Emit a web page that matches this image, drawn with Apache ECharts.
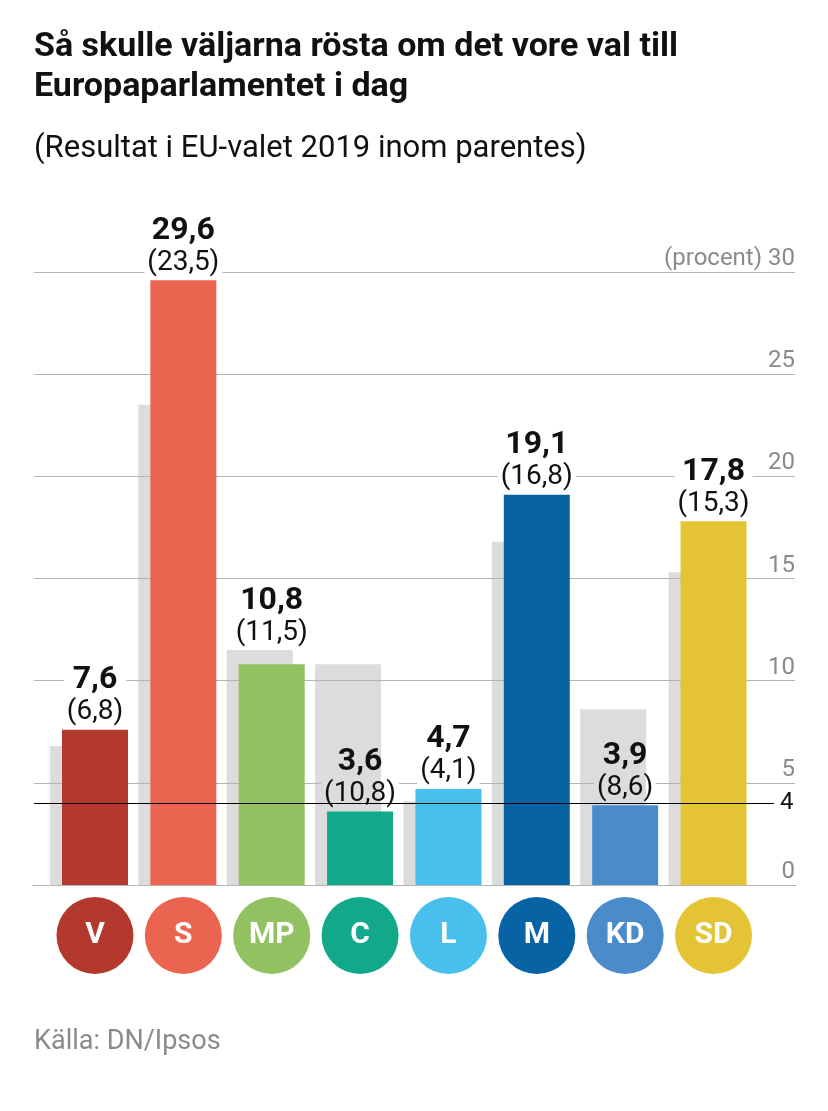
<!DOCTYPE html>
<html lang="sv" style="height: 100%">
<head>
  <meta charset="utf-8">
  <title>EU-val opinionsmätning - echart</title>
</head>
<body style="height: 100%; margin: 0; background: #fff">
  <div id="container" style="width: 828px; height: 1111px"></div>
  <script type="text/javascript" src="https://fastly.jsdelivr.net/npm/echarts@6.0.0/dist/echarts.min.js"></script>

  <script type="text/javascript">
    var dom = document.getElementById('container');
    var myChart = echarts.init(dom, null, { renderer: 'canvas' });

    // partier och värden
    const parties = ['V', 'S', 'MP', 'C', 'L', 'M', 'KD', 'SD'];
    const poll = [7.6, 29.6, 10.8, 3.6, 4.7, 19.1, 3.9, 17.8];
    const result2019 = [6.8, 23.5, 11.5, 10.8, 4.1, 16.8, 8.6, 15.3];
    const partyColors = ['#b3392e', '#ea6450', '#92c162', '#12a98a', '#48bfec', '#0763a3', '#4a8bcb', '#e4c435'];
    const yTicks = [0, 5, 10, 15, 20, 25, 30];
    const threshold = 4;

    const FONT = 'Roboto';
    const GREY = '#dcdcdc';
    const TOP = 272, BOTTOM = 226;
    const BAR_W = 66, SHIFT = 12, LABEL_PAD = 3;
    const Y_MAX = yTicks[yTicks.length - 1];
    const PX_PER_UNIT = (1111 - TOP - BOTTOM) / Y_MAX;

    const fmt = v => v.toFixed(1).replace('.', ',');

    // textbredd för att veta var den grå stapeln slutar under etiketten
    const measureCtx = document.createElement('canvas').getContext('2d');
    function textWidth(str, font) {
      measureCtx.font = font;
      return measureCtx.measureText(str).width;
    }

    // cirklar under staplarna
    const circleRich = {};
    parties.forEach((p, i) => {
      circleRich[p] = {
        backgroundColor: partyColors[i],
        color: '#fff',
        width: 77,
        height: 77,
        lineHeight: 77,
        borderRadius: 38.5,
        align: 'center',
        fontSize: 30,
        fontWeight: 'bold',
        fontFamily: FONT
      };
    });

    const labelRich = {
      v: { fontSize: 32, fontWeight: 'bold', color: '#111', lineHeight: 35, fontFamily: FONT },
      p: { fontSize: 28, color: '#111', lineHeight: 29, fontFamily: FONT }
    };

    // etikett: ovanför den högsta stapeln om den grå bara är lite högre,
    // annars direkt ovanför den färgade (bakgrund grå/vit så stödlinjen döljs)
    function labelFor(i) {
      const now = poll[i], prev = result2019[i];
      const lab = { padding: [0, LABEL_PAD] };
      if (now >= prev) {
        lab.backgroundColor = '#fff';
      } else if (prev - now < 2) {
        lab.distance = (prev - now) * PX_PER_UNIT + 3;
      } else {
        const w = Math.max(
          textWidth(fmt(now), 'bold 32px ' + FONT),
          textWidth('(' + fmt(prev) + ')', '28px ' + FONT)
        ) + 2 * LABEL_PAD;
        const greyEnd = Math.min(1, (w / 2 + BAR_W / 2 - SHIFT) / w);
        lab.backgroundColor = new echarts.graphic.LinearGradient(0, 0, 1, 0, [
          { offset: 0, color: GREY },
          { offset: greyEnd, color: GREY },
          { offset: greyEnd, color: '#fff' },
          { offset: 1, color: '#fff' }
        ]);
      }
      return lab;
    }

    var option = {
      animation: false,
      backgroundColor: '#fff',
      title: [
        {
          text: 'Så skulle väljarna rösta om det vore val till\nEuropaparlamentet i dag',
          left: 34,
          top: 27,
          padding: 0,
          textStyle: { fontFamily: FONT, fontSize: 34, fontWeight: 'bold', color: '#111', lineHeight: 40 }
        },
        {
          text: '(Resultat i EU-valet 2019 inom parentes)',
          left: 34,
          top: 134,
          padding: 0,
          textStyle: { fontFamily: FONT, fontSize: 31, fontWeight: 'normal', color: '#111' }
        },
        {
          text: 'Källa: DN/Ipsos',
          left: 34,
          top: 1029,
          padding: 0,
          textStyle: { fontFamily: FONT, fontSize: 27, fontWeight: 'normal', color: '#8a8a8a' }
        }
      ],
      grid: [
        // färgade staplar
        { left: 50.8, right: 70.3, top: TOP, bottom: BOTTOM },
        // grå staplar (2019), förskjutna åt vänster
        { left: 50.8 - SHIFT, right: 70.3 + SHIFT, top: TOP, bottom: BOTTOM },
        // stödlinjer och axel
        { left: 34, right: 33, top: TOP, bottom: BOTTOM },
        // spärrgräns
        { left: 34, right: 54, top: TOP, bottom: BOTTOM }
      ],
      xAxis: [
        {
          gridIndex: 0, type: 'category', data: parties,
          axisLine: { show: false }, axisTick: { show: false },
          axisLabel: {
            interval: 0, margin: 12, verticalAlign: 'top',
            formatter: v => '{' + v + '|' + v + '}',
            rich: circleRich
          }
        },
        {
          gridIndex: 1, type: 'category', data: parties, show: false
        },
        {
          gridIndex: 2, type: 'value', min: 0, max: 1,
          axisLine: { show: true, onZero: false, lineStyle: { color: '#000', width: 1.2 } },
          axisTick: { show: false }, axisLabel: { show: false }, splitLine: { show: false }
        },
        {
          gridIndex: 3, type: 'value', min: 0, max: 1, show: false
        }
      ],
      yAxis: [
        { gridIndex: 0, type: 'value', min: 0, max: Y_MAX, show: false },
        { gridIndex: 1, type: 'value', min: 0, max: Y_MAX, show: false },
        {
          gridIndex: 2, type: 'value', position: 'right',
          min: yTicks[0], max: Y_MAX, interval: 5,
          z: 1,
          axisLine: { show: false }, axisTick: { show: false },
          axisLabel: {
            inside: true, margin: 0, verticalAlign: 'bottom',
            color: '#8a8a8a', fontSize: 24, fontFamily: FONT, padding: [0, 0, 1, 0],
            formatter: v => (v === Y_MAX ? '(procent) ' + v : String(v))
          },
          splitLine: { lineStyle: { color: '#b4b4b4', width: 1.2 } }
        },
        { gridIndex: 3, type: 'value', min: 0, max: Y_MAX, show: false }
      ],
      series: [
        {
          type: 'bar', name: '2019', xAxisIndex: 1, yAxisIndex: 1,
          z: 0.5, barWidth: BAR_W, silent: true,
          itemStyle: { color: GREY },
          data: result2019
        },
        {
          type: 'bar', name: 'Idag', xAxisIndex: 0, yAxisIndex: 0,
          z: 3, barWidth: BAR_W, silent: true,
          data: poll.map((v, i) => ({
            value: v,
            itemStyle: { color: partyColors[i] },
            label: labelFor(i)
          })),
          label: {
            show: true, position: 'top', distance: 3,
            formatter: p => '{v|' + fmt(poll[p.dataIndex]) + '}\n{p|(' + fmt(result2019[p.dataIndex]) + ')}',
            rich: labelRich
          }
        },
        {
          type: 'line', name: 'spärr', xAxisIndex: 3, yAxisIndex: 3,
          z: 6, data: [], silent: true,
          markLine: {
            silent: true, symbol: 'none', z: 6,
            lineStyle: { color: '#000', width: 1.2, type: 'solid' },
            label: {
              position: 'end', distance: 6, formatter: String(threshold),
              color: '#111', fontSize: 24, fontFamily: FONT
            },
            data: [{ yAxis: threshold }]
          }
        }
      ]
    };

    myChart.setOption(option);
    window.addEventListener('resize', myChart.resize);
  </script>
</body>
</html>
